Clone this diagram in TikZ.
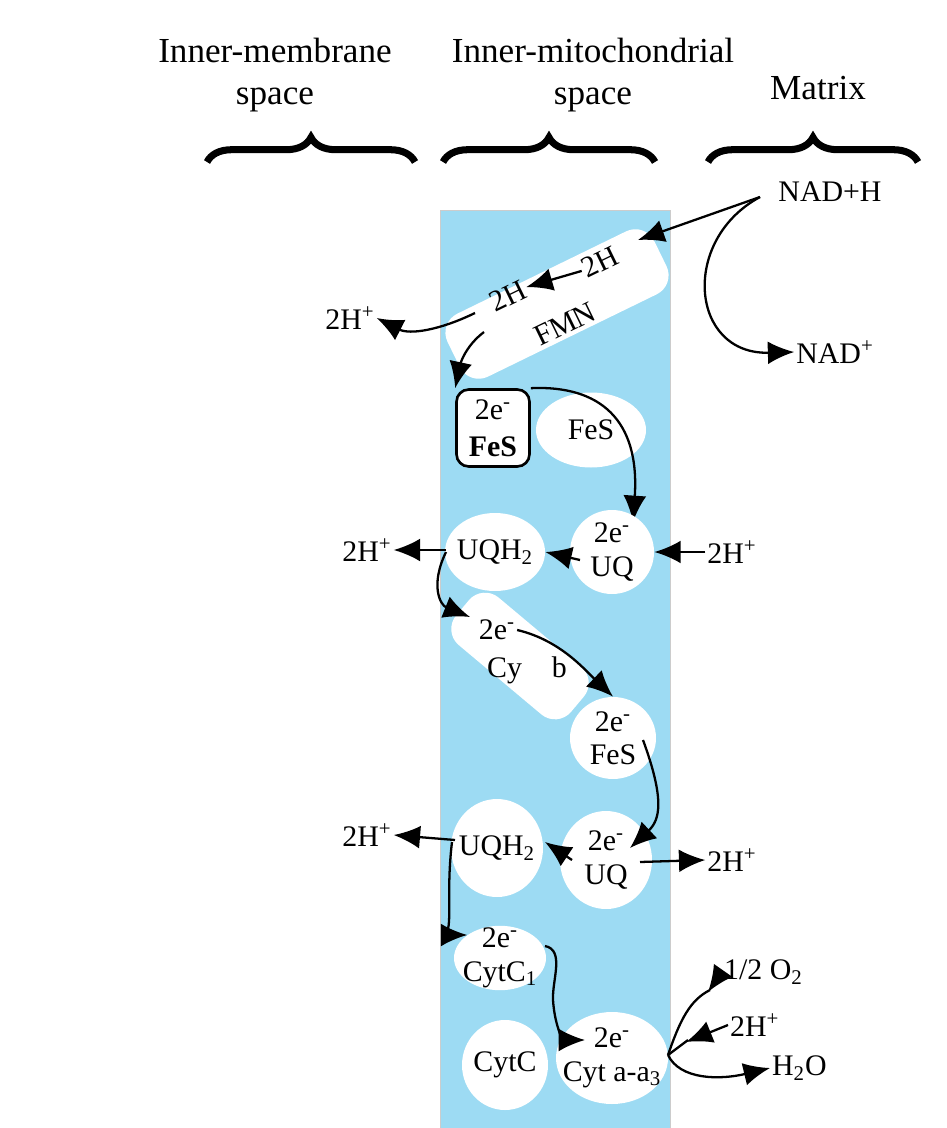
\documentclass[tikz,border=0pt]{standalone}
\usepackage{fontspec}
\setmainfont{Liberation Serif}
\usetikzlibrary{arrows.meta,shapes.geometric,decorations.pathreplacing}
\definecolor{membrane}{HTML}{9DDBF3}
\tikzset{
  blob/.style={ellipse,fill=white,inner sep=-4pt,align=center,font=\fontsize{17}{19}\selectfont},
  lbl/.style={inner sep=1pt,font=\fontsize{17}{19}\selectfont},
  head/.style={align=center,font=\fontsize{20}{24}\selectfont},
  arr/.style={line width=1.3pt,-{Latex[length=15pt,width=13pt]}},
  brace/.style={line width=4pt,decorate,decoration={brace,amplitude=14pt}}
}
\begin{document}
\begin{tikzpicture}[x=0.02cm,y=-0.02cm]
\useasboundingbox (0,0) rectangle (946,1128);
\fill [membrane] (440,210) rectangle (670,1128);
\draw [gray!40] (440,1128) -- (440,210) -- (670,210) -- (670,1128);

% headers
\node [head] (hims) at (275,75) {Inner-membrane\\space};
\node [head] (himm) at (593,75) {Inner-mitochondrial\\space};
\node [head] (hmat) at (818,88) {Matrix};
\draw [brace] (207,162) -- (415,162);
\draw [brace] (443,162) -- (655,162);
\draw [brace] (708,162) -- (918,162);

% complex I
\node [rotate=26,fill=white,rounded corners=12pt,minimum width=230*0.02cm,minimum height=70*0.02cm] (fmn) at (557,304) {};
\node [lbl,rotate=26] (h2a) at (600,262) {2H};
\node [lbl,rotate=26] (h2b) at (508,296) {2H};
\node [lbl,rotate=26] (fmnt) at (565,324) {FMN};
\node [lbl] (nadh) at (830,192) {NAD+H};
\node [lbl] (nad) at (835,352) {NAD\textsuperscript{+}};
\node [lbl] (hp1) at (350,318) {2H\textsuperscript{+}};
\draw [arr] (760,197) -- (638,240);
\draw [arr] (760,197) .. controls (680,240) and (690,355) .. (nad.west);
\draw [arr] (h2a.west) -- (h2b.east);
\draw [arr] (475,313) .. controls (440,330) and (410,335) .. (hp1.east);

\node [draw,line width=1.5pt,fill=white,rounded corners=7pt,minimum width=73*0.02cm,minimum height=77*0.02cm,align=center,font=\fontsize{17}{21}\selectfont] (fes1) at (493,428) {2e\textsuperscript{-}\\\textbf{FeS}};
\node [blob,minimum width=110*0.02cm,minimum height=75*0.02cm] (fes2) at (591,430) {FeS};
\draw [arr] (484,332) .. controls (460,350) and (458,375) .. (fes1.north west);
\draw [arr] (fes1.north east) .. controls (600,385) and (640,420) .. (633,522);

% complex II
\node [blob,minimum width=100*0.02cm,minimum height=78*0.02cm] (uqh1) at (495,552) {UQH\textsubscript{2}};
\node [blob,minimum width=84*0.02cm,minimum height=84*0.02cm] (uq1) at (612,552) {2e\textsuperscript{-}\\UQ};
\node [lbl] (hp2) at (367,550) {2H\textsuperscript{+}};
\node [lbl] (hp3) at (732,552) {2H\textsuperscript{+}};
\draw [arr] (580,560) -- (uqh1.east);
\draw [arr] (hp3.west) -- (uq1.east);
\draw [arr] (446,550) -- (hp2.east);

\node [rotate=-40,fill=white,rounded corners=12pt,minimum width=150*0.02cm,minimum height=62*0.02cm] (cyb) at (520,656) {};
\node [lbl] (cybe) at (497,630) {2e\textsuperscript{-}};
\node [lbl] (cybt) at (527,670) {Cy\quad b};
\draw [arr] (446,552) .. controls (430,585) and (440,605) .. (470,617);
\node [blob,minimum width=86*0.02cm,minimum height=82*0.02cm] (fes3) at (613,738) {2e\textsuperscript{-}\\FeS};
\draw [arr] (cybe.east) .. controls (560,640) and (585,670) .. (fes3.north);

% complex III
\node [blob,minimum width=92*0.02cm,minimum height=98*0.02cm] (uqh2) at (497,848) {UQH\textsubscript{2}};
\node [blob,minimum width=92*0.02cm,minimum height=98*0.02cm] (uq2) at (606,860) {2e\textsuperscript{-}\\UQ};
\node [lbl] (hp4) at (367,835) {2H\textsuperscript{+}};
\node [lbl] (hp5) at (732,860) {2H\textsuperscript{+}};
\draw [arr] (643,740) .. controls (665,800) and (660,820) .. (630,848);
\draw [arr] (572,860) -- (545,842);
\draw [arr] (640,862) -- (hp5.west);
\draw [arr] (455,840) -- (hp4.east);

% complex IV
\node [blob,minimum width=92*0.02cm,minimum height=64*0.02cm] (cytc1) at (500,958) {2e\textsuperscript{-}\\CytC\textsubscript{1}};
\node [blob,minimum width=86*0.02cm,minimum height=90*0.02cm] (cytc) at (505,1065) {CytC};
\node [blob,inner sep=-9pt,minimum width=112*0.02cm,minimum height=92*0.02cm] (cytaa) at (612,1058) {2e\textsuperscript{-}\\Cyt a-a\textsubscript{3}};
\draw [arr] (452,842) .. controls (445,900) and (455,935) .. (cytc1.north west);
\draw [arr] (545,946) .. controls (565,950) and (552,980) .. (553,1000) .. controls (555,1030) and (565,1040) .. (585,1040);

\coordinate (join) at (668,1055);
\node [lbl,anchor=west] (o2) at (722,972) {1/2 O\textsubscript{2}};
\node [lbl,anchor=west] (hp6) at (728,1025) {2H\textsuperscript{+}};
\node [lbl,anchor=west] (h2o) at (770,1068) {H\textsubscript{2}O};
\draw [line width=1.3pt] (join) .. controls (680,1020) and (690,1000) .. (710,990);
\draw [arr] (o2.west) -- (708,992);
\draw [arr] (hp6.west) -- (686,1042);
\draw [line width=1.3pt] (688,1040) -- (join);
\draw [arr] (join) .. controls (680,1080) and (720,1080) .. (h2o.west);
\end{tikzpicture}
\end{document}
